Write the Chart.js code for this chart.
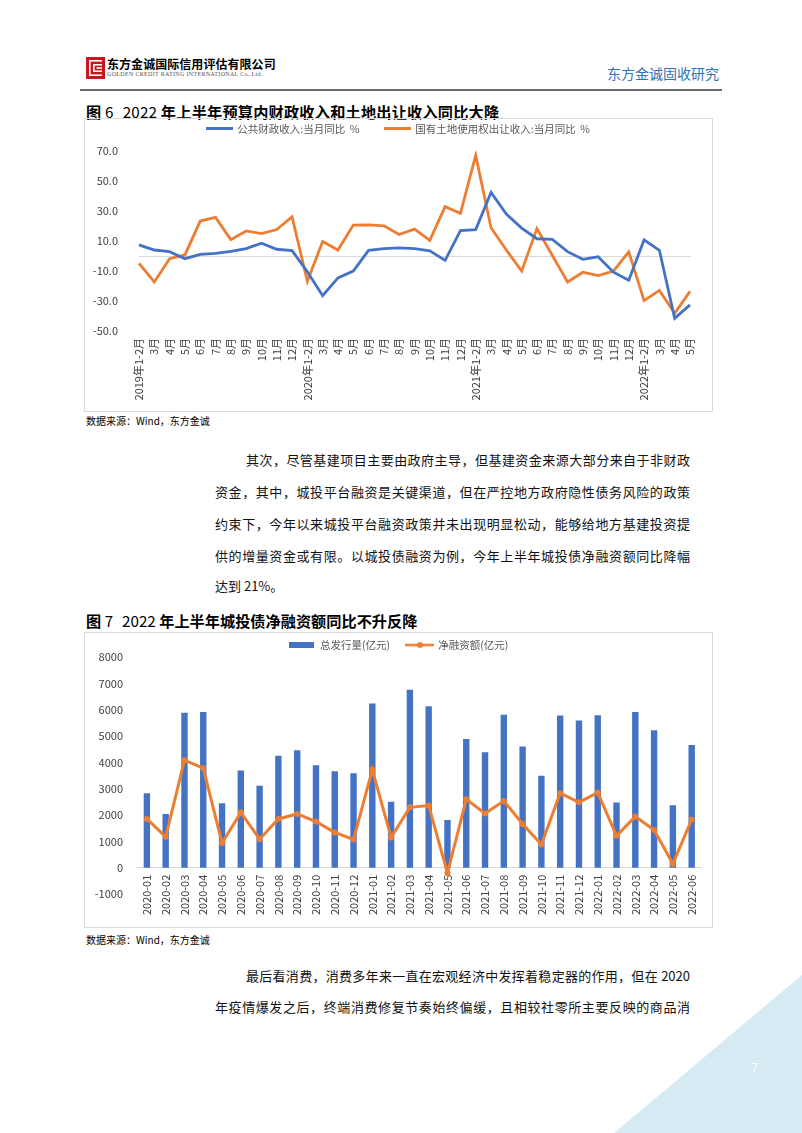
<!DOCTYPE html>
<html lang="zh-CN">
<head>
<meta charset="utf-8">
<title>东方金诚固收研究</title>
<script src="https://cdn.jsdelivr.net/npm/chart.js@4.4.1/dist/chart.umd.min.js"></script>
<style>
  html, body { margin: 0; padding: 0; background: #fff; }
  body {
    width: 802px; height: 1133px; position: relative; overflow: hidden;
    font-family: "Noto Sans CJK SC", "Noto Sans", sans-serif; color: #000;
  }
  .abs { position: absolute; white-space: nowrap; }
  .rule { left: 80px; top: 89px; width: 642px; height: 2px; background: #6b6b6b; }
  .company { left: 107px; top: 57px; font-size: 12px; font-weight: 700; line-height: 14px; letter-spacing: 0.05px; }
  .company-en { left: 107px; top: 71px; font-family: "Liberation Serif", serif; font-size: 6px; line-height: 7px; letter-spacing: 0.32px; color: #555; }
  .brand { left: 607px; top: 63px; font-size: 14px; line-height: 20px; color: #2e74b5; }
  .fig-title { left: 86px; font-size: 15.2px; line-height: 20px; font-weight: 700; }
  .fig-title .n { font-weight: 400; }
  .fig-title .yr { font-weight: 400; margin-left: 9px; }
  .src { left: 86px; font-size: 10px; line-height: 14px; }
  .box { position: absolute; left: 84px; width: 629px; box-sizing: border-box; border: 1px solid #d9d9d9; }
  .box canvas { position: absolute; left: 0; top: 0; }
  .ln { position: absolute; font-size: 13px; line-height: 20px; text-align: justify; text-align-last: justify; color: #111; }
  .corner { left: 0; top: 0; width: 802px; height: 1133px; }
  .page-no { left: 751px; top: 1058px; font-size: 13px; line-height: 20px; color: #fff; }
</style>
</head>
<body>

<svg class="abs" style="left:86px;top:57px" width="19" height="22" viewBox="0 0 19 22">
  <rect x="0" y="0" width="19" height="22" fill="#c9151e"/>
  <rect x="3" y="3" width="1.6" height="16" fill="#fff"/>
  <rect x="3" y="3" width="13" height="1.6" fill="#fff"/>
  <rect x="3" y="17.4" width="13" height="1.6" fill="#fff"/>
  <rect x="7" y="7" width="1.6" height="8" fill="#fff"/>
  <rect x="7" y="7" width="9" height="1.6" fill="#fff"/>
  <rect x="7" y="13.4" width="9" height="1.6" fill="#fff"/>
  <rect x="10.5" y="10.2" width="5.5" height="1.6" fill="#fff"/>
</svg>
<div class="abs company">东方金诚国际信用评估有限公司</div>
<div class="abs company-en">GOLDEN CREDIT RATING INTERNATIONAL Co.,Ltd.</div>
<div class="abs brand">东方金诚固收研究</div>
<div class="abs rule"></div>

<div class="abs fig-title" style="top:101px;letter-spacing:0.2px">图 <span class="n">6</span><span class="yr">2022</span> 年上半年预算内财政收入和土地出让收入同比大降</div>
<div class="box" style="top:118px;height:294px"><canvas id="chart1" width="627" height="292"></canvas></div>
<div class="abs src" style="top:414px">数据来源：Wind，东方金诚</div>

<div class="ln" style="left:246px;top:450px;width:444px">其次，尽管基建项目主要由政府主导，但基建资金来源大部分来自于非财政</div>
<div class="ln" style="left:215px;top:482px;width:475px">资金，其中，城投平台融资是关键渠道，但在严控地方政府隐性债务风险的政策</div>
<div class="ln" style="left:215px;top:514px;width:475px">约束下，今年以来城投平台融资政策并未出现明显松动，能够给地方基建投资提</div>
<div class="ln" style="left:215px;top:546px;width:475px">供的增量资金或有限。以城投债融资为例，今年上半年城投债净融资额同比降幅</div>
<div class="ln" style="left:215px;top:576px;text-align:left;text-align-last:left">达到 21%。</div>

<div class="abs fig-title" style="top:610px">图 <span class="n">7</span><span class="yr">2022</span> 年上半年城投债净融资额同比不升反降</div>
<div class="box" style="top:632px;height:296px"><canvas id="chart2" width="627" height="294"></canvas></div>
<div class="abs src" style="top:933px">数据来源：Wind，东方金诚</div>

<div class="ln" style="left:246px;top:966px;width:444px">最后看消费，消费多年来一直在宏观经济中发挥着稳定器的作用，但在 2020</div>
<div class="ln" style="left:215px;top:997px;width:475px">年疫情爆发之后，终端消费修复节奏始终偏缓，且相较社零所主要反映的商品消</div>

<svg class="abs corner" width="802" height="1133">
  <polygon points="614,1133 802,975 802,1133" fill="#d5eaf3"/>
</svg>
<div class="abs page-no">7</div>

<script>
// 图6：月份标签与两条同比序列（%）
const months1 = [
  '2019年1-2月', '3月', '4月', '5月', '6月', '7月', '8月', '9月', '10月', '11月', '12月',
  '2020年1-2月', '3月', '4月', '5月', '6月', '7月', '8月', '9月', '10月', '11月', '12月',
  '2021年1-2月', '3月', '4月', '5月', '6月', '7月', '8月', '9月', '10月', '11月', '12月',
  '2022年1-2月', '3月', '4月', '5月'
];
const fiscalYoY = [
  7.4, 4.0, 2.9, -1.8, 1.1, 1.8, 3.1, 4.9, 8.5, 4.5, 3.6,
  -10.5, -26.5, -14.6, -10.1, 3.8, 4.9, 5.4, 4.9, 3.4, -2.9, 17.0,
  17.6, 42.4, 27.9, 18.6, 11.5, 11.1, 2.9, -2.2, -0.5, -10.8, -16.2,
  10.8, 3.8, -41.6, -32.6
];
const landYoY = [
  -4.9, -17.3, -1.8, 0.7, 23.3, 25.7, 10.9, 16.7, 14.9, 17.6, 26.2,
  -16.9, 9.7, 4.0, 20.6, 20.8, 20.1, 14.3, 17.9, 10.4, 32.9, 28.4,
  67.1, 18.8, 4.0, -10.1, 18.3, 0.5, -17.3, -10.8, -13.0, -10.1, 2.7,
  -29.7, -22.9, -38.2, -23.6
];

// 图7：城投债月度发行与净融资（亿元）
const months2 = [
  '2020-01', '2020-02', '2020-03', '2020-04', '2020-05', '2020-06',
  '2020-07', '2020-08', '2020-09', '2020-10', '2020-11', '2020-12',
  '2021-01', '2021-02', '2021-03', '2021-04', '2021-05', '2021-06',
  '2021-07', '2021-08', '2021-09', '2021-10', '2021-11', '2021-12',
  '2022-01', '2022-02', '2022-03', '2022-04', '2022-05', '2022-06'
];
const issuance = [
  2830, 2040, 5880, 5910, 2450, 3690, 3110, 4250, 4460, 3890, 3660, 3590,
  6230, 2500, 6760, 6130, 1810, 4890, 4380, 5810, 4600, 3490, 5780, 5590,
  5790, 2470, 5910, 5220, 2370, 4660
];
const netFinancing = [
  1850, 1170, 4080, 3780, 940, 2100, 1080, 1850, 2040, 1750, 1340, 1070,
  3720, 1150, 2290, 2360, -200, 2600, 2060, 2530, 1660, 880, 2830, 2480,
  2850, 1210, 1940, 1430, 150, 1830
];

const BLUE = '#4472c4';
const ORANGE = '#ed7d31';
const TEXT = '#404040';
const FONT = '"Noto Sans CJK SC", "Noto Sans", sans-serif';

Chart.defaults.font.family = FONT;
Chart.defaults.font.size = 11;
Chart.defaults.color = TEXT;

// 图例小图标（Excel 风格的线段 / 色块 / 带点线段）
function icon(w, h, draw) {
  const c = document.createElement('canvas');
  c.width = w;
  c.height = h;
  draw(c.getContext('2d'));
  return c;
}
const lineIcon = (color) => icon(27, 3, (ctx) => { ctx.fillStyle = color; ctx.fillRect(0, 0, 27, 3); });
const barIcon = icon(25, 6, (ctx) => { ctx.fillStyle = BLUE; ctx.fillRect(0, 0, 25, 6); });
const markerIcon = icon(29, 8, (ctx) => {
  ctx.fillStyle = ORANGE;
  ctx.fillRect(0, 3, 29, 2.5);
  ctx.beginPath();
  ctx.arc(14.5, 4.2, 3, 0, Math.PI * 2);
  ctx.fill();
});

// 把图例高度固定下来，图表区域顶部就能对上原图
function legendHeight(h) {
  return {
    id: 'legendHeight',
    beforeInit(chart) {
      const fit = chart.legend.fit;
      chart.legend.fit = function () {
        fit.call(this);
        this.height = h;
      };
    }
  };
}

function legendItem(text, img, i) {
  return {
    text, pointStyle: img, datasetIndex: i, hidden: false,
    fillStyle: 'transparent', strokeStyle: 'transparent', lineWidth: 0, fontColor: '#595959'
  };
}

// 右侧留白用一根空轴占位，图例仍按整张画布居中
function spacerAxis(w) {
  return {
    position: 'right',
    ticks: { display: false },
    grid: { display: false, drawTicks: false },
    border: { display: false },
    afterFit(axis) { axis.width = w; }
  };
}

// 全角空格只用来撑开图例间距
const GAP = '\u3000';

new Chart(document.getElementById('chart1'), {
  type: 'line',
  data: {
    labels: months1,
    datasets: [
      { label: '公共财政收入:当月同比  %', data: fiscalYoY, borderColor: BLUE, backgroundColor: BLUE,
        borderWidth: 2.8, pointRadius: 0, tension: 0 },
      { label: '国有土地使用权出让收入:当月同比  %', data: landYoY, borderColor: ORANGE, backgroundColor: ORANGE,
        borderWidth: 2.8, pointRadius: 0, tension: 0 }
    ]
  },
  options: {
    responsive: false,
    animation: false,
    layout: { padding: { left: 0, right: 0, top: 0, bottom: 7 } },
    plugins: {
      tooltip: { enabled: false },
      legend: {
        position: 'top',
        labels: {
          usePointStyle: true,
          pointStyleWidth: 25,
          padding: 4.5,
          color: '#595959',
          font: { size: 10.5 },
          generateLabels: () => [
            legendItem('公共财政收入:当月同比  %' + GAP + GAP, lineIcon(BLUE), 0),
            legendItem('国有土地使用权出让收入:当月同比  %', lineIcon(ORANGE), 1)
          ]
        }
      }
    },
    scales: {
      x: {
        ticks: { autoSkip: false, minRotation: 90, maxRotation: 90, padding: 7, color: TEXT },
        grid: { display: false, drawTicks: false },
        border: { display: false },
        afterFit(axis) { axis.height = 73; }
      },
      zero: {
        type: 'category',
        axis: 'x',
        position: { y: 0 },
        ticks: { display: false },
        grid: { display: false, drawTicks: false },
        border: { color: '#d9d9d9', width: 1 }
      },
      y: {
        min: -50,
        max: 70,
        ticks: { stepSize: 20, padding: 21, color: TEXT, callback: (v) => Number(v).toFixed(1) },
        grid: { display: false, drawTicks: false },
        border: { display: false },
        afterFit(axis) { axis.width = 54; }
      },
      yRight: spacerAxis(22)
    }
  },
  plugins: [legendHeight(32)]
});

new Chart(document.getElementById('chart2'), {
  type: 'bar',
  data: {
    labels: months2,
    datasets: [
      { type: 'bar', label: '总发行量(亿元)', data: issuance, backgroundColor: BLUE,
        barPercentage: 0.34, categoryPercentage: 1, order: 2 },
      { type: 'line', label: '净融资额(亿元)', data: netFinancing, borderColor: ORANGE, backgroundColor: ORANGE,
        borderWidth: 3, pointRadius: 3, pointBackgroundColor: ORANGE, pointBorderColor: ORANGE,
        pointBorderWidth: 0, tension: 0, order: 1 }
    ]
  },
  options: {
    responsive: false,
    animation: false,
    layout: { padding: { left: 0, right: 0, top: 0, bottom: 33 } },
    plugins: {
      tooltip: { enabled: false },
      legend: {
        position: 'top',
        labels: {
          usePointStyle: true,
          pointStyleWidth: 26,
          padding: 6.5,
          color: '#595959',
          font: { size: 10.5 },
          generateLabels: () => [
            legendItem('总发行量(亿元)' + GAP, barIcon, 0),
            legendItem('净融资额(亿元)', markerIcon, 1)
          ]
        }
      }
    },
    scales: {
      x: {
        position: { y: 0 },
        ticks: { autoSkip: false, minRotation: 90, maxRotation: 90, padding: 7, color: TEXT },
        grid: { display: false, drawTicks: false },
        border: { color: '#d9d9d9', width: 1 }
      },
      y: {
        min: -1000,
        max: 8000,
        ticks: { stepSize: 1000, padding: 14.5, color: TEXT, callback: (v) => String(v) },
        grid: { display: false, drawTicks: false },
        border: { display: false },
        afterFit(axis) { axis.width = 52.5; }
      },
      yRight: spacerAxis(7.5)
    }
  },
  plugins: [legendHeight(24)]
});
</script>
</body>
</html>
